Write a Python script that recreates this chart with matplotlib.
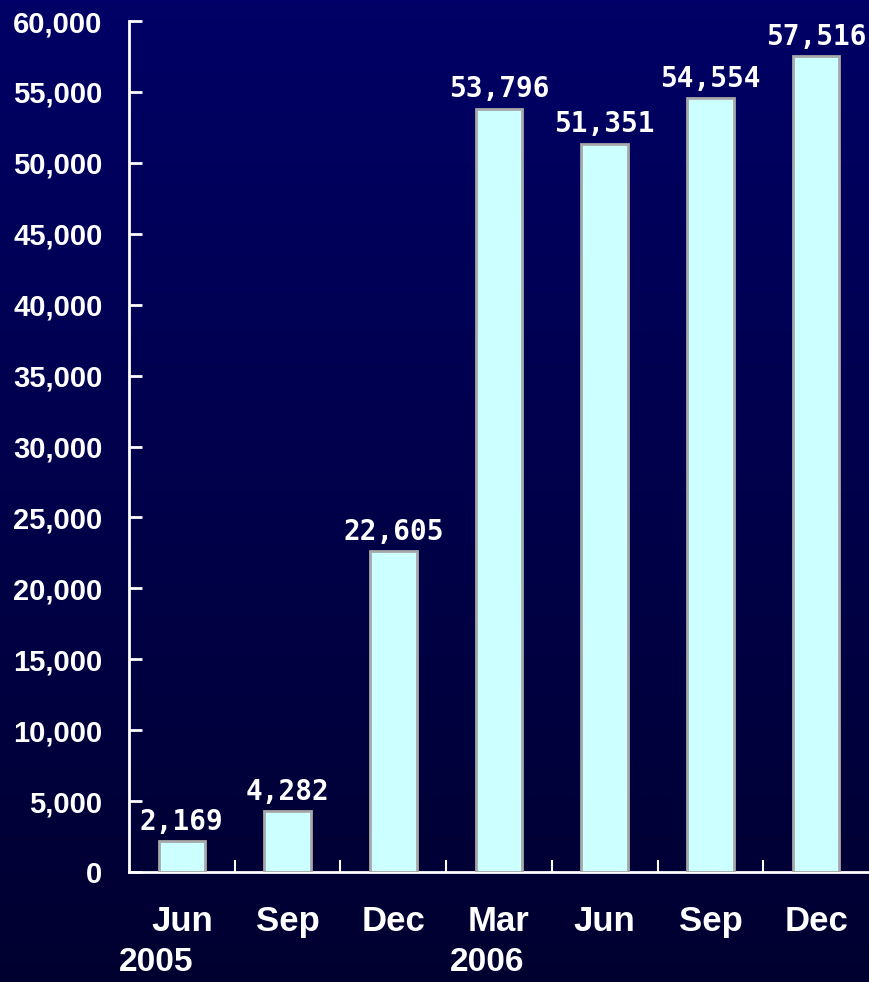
import numpy as np
import matplotlib.pyplot as plt
import matplotlib as mpl
from matplotlib.colors import LinearSegmentedColormap

plt.rcParams.update({'font.family': ['Liberation Sans', 'DejaVu Sans'],
                     'font.weight': 'bold',
                     'font.size': 20})

months = ['Jun', 'Sep', 'Dec', 'Mar', 'Jun', 'Sep', 'Dec']
years = ['2005', '', '', '2006', '', '', '']
users = [2169, 4282, 22605, 53796, 51351, 54554, 57516]
yticks = np.arange(0, 60001, 5000)

fig = plt.figure(figsize=(8.69, 9.82), dpi=100)

# navy-to-black backdrop
bg = fig.add_axes([0, 0, 1, 1], zorder=-10)
grad = LinearSegmentedColormap.from_list('bg', ['#000066', '#000030'])
bg.imshow(np.linspace(0, 1, 256)[:, None], aspect='auto', cmap=grad,
          extent=[0, 1, 0, 1])
bg.axis('off')

ax = fig.add_axes([0.1484, 0.112, 0.8516, 0.8666])
ax.patch.set_alpha(0)

x = np.arange(len(users))
ax.bar(x, users, width=0.44, color='#ccffff', edgecolor='#a8a8a8',
       linewidth=2, zorder=3)
for xi, v in zip(x, users):
    ax.annotate(f'{v:,}', (xi, v), xytext=(0, 4), textcoords='offset points',
                ha='center', va='bottom', color='white', fontsize=20,
                family='DejaVu Sans Mono', fontweight='bold')

ax.set_xlim(-0.5, len(users) - 0.5)
ax.set_ylim(0, 60000)
ax.set_yticks(yticks)
ax.set_yticklabels([f'{t:,}' for t in yticks])
ax.set_xticks(x)
ax.set_xticklabels(months)
ax.set_xticks(x[:-1] + 0.5, minor=True)

for s in ['top', 'right']:
    ax.spines[s].set_visible(False)
for s in ['left', 'bottom']:
    ax.spines[s].set_color('white')
    ax.spines[s].set_linewidth(2)

ax.tick_params(axis='y', direction='in', length=9, width=2, colors='white',
               pad=19, labelsize=21)
ax.tick_params(axis='x', which='major', length=0, colors='white', pad=24,
               labelsize=25)
ax.tick_params(axis='x', which='minor', direction='in', length=9, width=1.5,
               color='white')

# year labels sit left of their first month
tr = mpl.transforms.blended_transform_factory(ax.transData, fig.transFigure)
year_shift = {'2005': -0.24, '2006': -0.11}
for xi, yr in zip(x, years):
    if yr:
        ax.text(xi + year_shift[yr], 0.004, yr, transform=tr, ha='center',
                va='bottom', color='white', fontsize=24)

fig.savefig('out.png', dpi=100)
